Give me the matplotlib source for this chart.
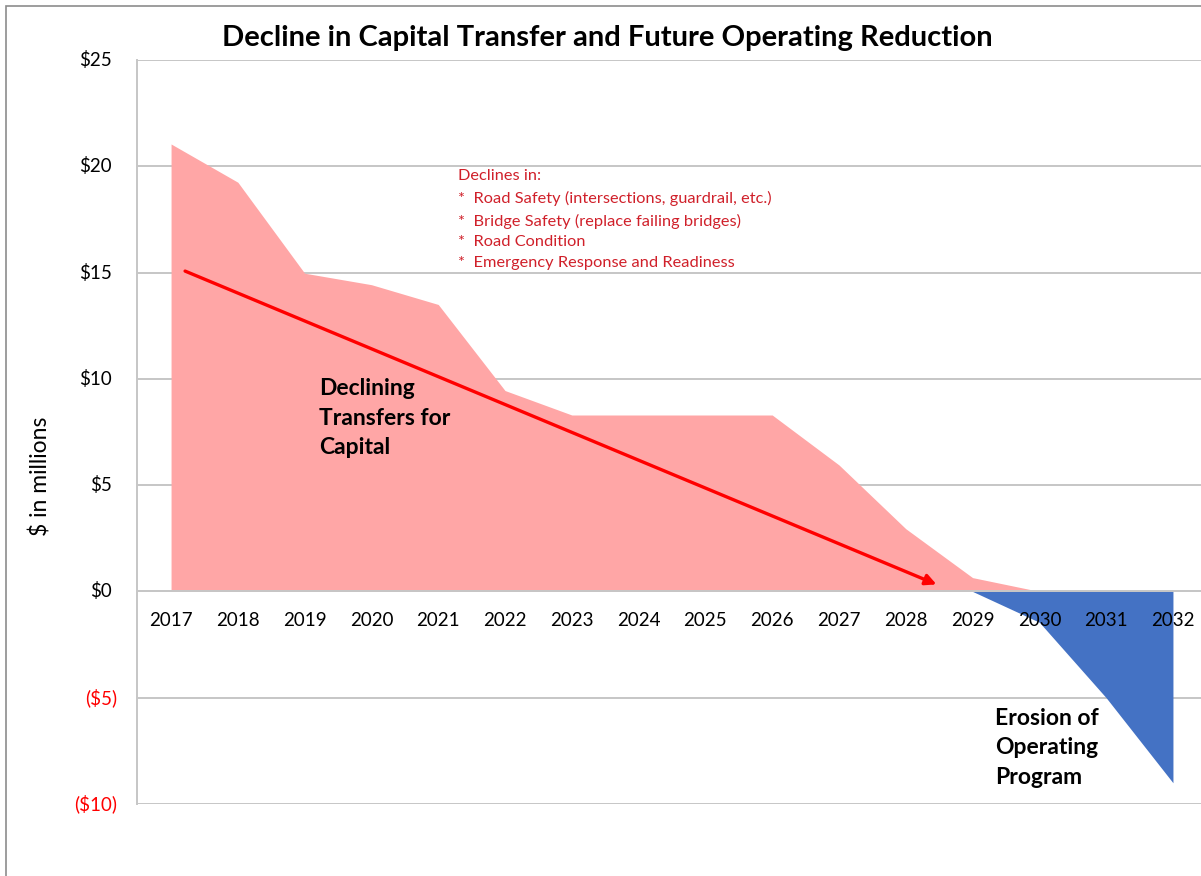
import matplotlib
matplotlib.use("Agg")
import matplotlib.pyplot as plt
import matplotlib.patches as mpatches
import numpy as np

plt.rcParams['font.family'] = ['Lato', 'DejaVu Sans']

years = [2017, 2018, 2019, 2020, 2021, 2022, 2023, 2024, 2025, 2026,
         2027, 2028, 2029, 2030, 2031, 2032]
capital_transfer = [21.05, 19.25, 14.97, 14.43, 13.5, 9.45, 8.3, 8.3, 8.3, 8.3,
                    5.95, 2.95, 0.65, 0.0, 0.0, 0.0]
operating_reduction = [0, 0, 0, 0, 0, 0, 0, 0, 0, 0,
                       0, 0, 0.0, -1.45, -5.0, -9.0]
y_ticks = [-10, -5, 0, 5, 10, 15, 20, 25]
y_tick_labels = ["($10)", "($5)", "$0", "$5", "$10", "$15", "$20", "$25"]
arrow_start = (2017.21, 15.07)
arrow_end = (2028.46, 0.33)
decline_notes = ["Declines in:",
                 "*  Road Safety (intersections, guardrail, etc.)",
                 "*  Bridge Safety (replace failing bridges)",
                 "*  Road Condition",
                 "*  Emergency Response and Readiness"]

W, H = 1201, 876
fig = plt.figure(figsize=(W / 100, H / 100), dpi=100)
ax = fig.add_axes([137 / W, 1 - 804 / H, 1064 / W, 744 / H])

ax.fill_between(years, 0, capital_transfer, color='#FFA6A6', lw=0, zorder=2)
ax.fill_between(years, 0, operating_reduction, color='#4472C4', lw=0, zorder=2)

ax.set_xlim(2016.49, 2032.42)
ax.set_ylim(-10, 25)

for v in y_ticks:
    ax.axhline(v, color='#C6C6C6', lw=1.4, zorder=1)
ax.axhline(0, color='#C6C6C6', lw=1.4, zorder=3)

for s in ['top', 'right', 'bottom']:
    ax.spines[s].set_visible(False)
ax.spines['left'].set_color('#C6C6C6')
ax.spines['left'].set_linewidth(1.4)

ax.set_yticks([])
ax.set_xticks([])
for v, lab in zip(y_ticks, y_tick_labels):
    neg = v < 0
    ax.annotate(lab, xy=(0, v), xycoords=('axes fraction', 'data'),
                xytext=(-20 if neg else -25, 0), textcoords='offset pixels',
                ha='right', va='center', fontsize=13.5,
                color='#FF0000' if neg else 'black')

for yr in years:
    ax.annotate(str(yr), xy=(yr, 0), xycoords='data', xytext=(0, -29),
                textcoords='offset pixels', ha='center', va='center',
                fontsize=13.5, color='black', zorder=5)

ax.annotate('', xy=arrow_end, xytext=arrow_start,
            arrowprops=dict(arrowstyle='-|>', color='#FF0000', lw=2.4,
                            mutation_scale=16, shrinkA=0, shrinkB=0),
            zorder=4)

ax.text(2019.22, 8.15, "Declining\nTransfers for\nCapital", ha='left', va='center',
        fontsize=16.5, fontweight='bold', linespacing=1.5, color='black', zorder=5)
ax.text(2029.34, -7.36, "Erosion of\nOperating\nProgram", ha='left', va='center',
        fontsize=16.5, fontweight='bold', linespacing=1.5, color='black', zorder=5)

ax.text(2021.30, 19.85, "\n".join(decline_notes), ha='left', va='top',
        fontsize=11.8, linespacing=1.62, color='#D0202A', zorder=5)

fig.text(607.5 / W, 1 - 38 / H, "Decline in Capital Transfer and Future Operating Reduction",
         ha='center', va='center', fontsize=21, fontweight='bold', color='black')
fig.text(40 / W, 1 - 476 / H, "$ in millions", rotation=90, ha='center', va='center',
         fontsize=16.5, color='black')

fig.patches.append(mpatches.Rectangle((6 / W, -0.1), 2, 1 - 6 / H + 0.1,
                                      transform=fig.transFigure, fill=False,
                                      edgecolor='#8C8C8C', lw=1.2))

fig.savefig('out.png', dpi=100)
